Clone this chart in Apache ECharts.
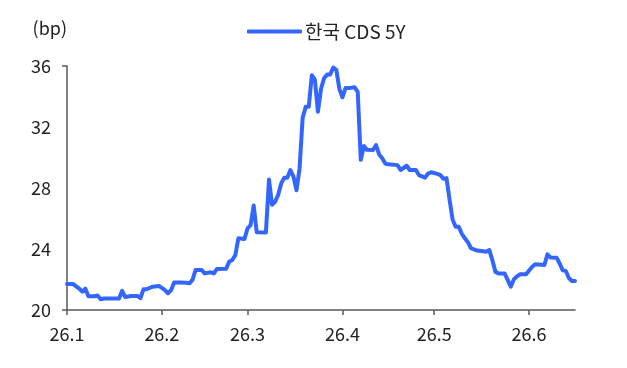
<!DOCTYPE html>
<html>
<head>
<meta charset="utf-8">
<script src="https://cdn.jsdelivr.net/npm/echarts@6/dist/echarts.min.js"></script>
<style>
  html, body { margin: 0; padding: 0; background: #ffffff; }
  #chart { width: 627px; height: 368px; }
</style>
</head>
<body>
<div id="chart"></div>
<script>
// Korea 5Y CDS spread (bp), daily observations
const seriesName = '한국 CDS 5Y';
const unitLabel = '(bp)';

const dates = [
  '2026-01-01','2026-01-03','2026-01-05','2026-01-06','2026-01-07','2026-01-08','2026-01-10','2026-01-11',
  '2026-01-12','2026-01-13','2026-01-15','2026-01-18','2026-01-19','2026-01-20','2026-01-22','2026-01-24',
  '2026-01-25','2026-01-26','2026-01-27','2026-01-29','2026-01-31',
  '2026-02-01','2026-02-02','2026-02-03','2026-02-04','2026-02-05','2026-02-07','2026-02-09','2026-02-10',
  '2026-02-11','2026-02-12','2026-02-14','2026-02-15','2026-02-17','2026-02-18','2026-02-19','2026-02-22',
  '2026-02-23','2026-02-24','2026-02-25','2026-02-26','2026-02-28',
  '2026-03-01','2026-03-02','2026-03-03','2026-03-04','2026-03-07','2026-03-08','2026-03-09','2026-03-10',
  '2026-03-11','2026-03-12','2026-03-13','2026-03-14','2026-03-15','2026-03-16','2026-03-17','2026-03-18',
  '2026-03-19','2026-03-20','2026-03-21','2026-03-22','2026-03-23','2026-03-24','2026-03-25','2026-03-26',
  '2026-03-27','2026-03-28','2026-03-29','2026-03-30','2026-03-31',
  '2026-04-01','2026-04-02','2026-04-03','2026-04-05','2026-04-06','2026-04-07','2026-04-08','2026-04-09',
  '2026-04-11','2026-04-12','2026-04-13','2026-04-14','2026-04-15','2026-04-16','2026-04-19','2026-04-20',
  '2026-04-22','2026-04-23','2026-04-25','2026-04-26','2026-04-28','2026-04-29','2026-04-30',
  '2026-05-02','2026-05-03','2026-05-04','2026-05-05','2026-05-06','2026-05-07','2026-05-08','2026-05-09',
  '2026-05-10','2026-05-11','2026-05-12','2026-05-13','2026-05-15','2026-05-17','2026-05-18','2026-05-19',
  '2026-05-20','2026-05-21','2026-05-22','2026-05-24','2026-05-25','2026-05-26','2026-05-27','2026-05-28',
  '2026-05-29','2026-05-31',
  '2026-06-02','2026-06-03','2026-06-06','2026-06-07','2026-06-08','2026-06-10','2026-06-11','2026-06-12',
  '2026-06-13','2026-06-14','2026-06-15','2026-06-16'
];

const cds5y = [
  21.7, 21.7, 21.4, 21.2, 21.4, 20.9, 20.9, 20.95,
  20.7, 20.75, 20.75, 20.75, 21.25, 20.85, 20.92, 20.92,
  20.78, 21.36, 21.36, 21.53, 21.57,
  21.45, 21.3, 21.1, 21.3, 21.8, 21.8, 21.78, 21.75,
  21.97, 22.62, 22.62, 22.4, 22.47, 22.4, 22.69, 22.7,
  23.17, 23.28, 23.6, 24.7, 24.66,
  25.36, 25.57, 26.85, 25.1, 25.09, 28.55, 26.9, 27.1,
  27.55, 28.3, 28.68, 28.68, 29.18, 28.75, 27.85, 29.3,
  32.6, 33.33, 33.33, 35.4, 35.1, 33.0, 34.5, 35.2,
  35.45, 35.45, 35.9, 35.75, 34.5,
  33.95, 34.55, 34.55, 34.6, 34.3, 29.85, 30.75, 30.5,
  30.49, 30.82, 30.2, 29.95, 29.6, 29.55, 29.5, 29.18,
  29.46, 29.18, 29.18, 28.85, 28.68, 28.95, 29.03,
  28.93, 28.85, 28.6, 28.65, 27.25, 25.93, 25.46, 25.46,
  25.0, 24.7, 24.45, 24.05, 23.9, 23.85, 23.82, 23.93,
  23.27, 22.5, 22.4, 22.4, 21.97, 21.53, 22.0, 22.2,
  22.34, 22.34,
  22.84, 23.0, 22.95, 23.65, 23.45, 23.43, 23.04, 22.6,
  22.56, 22.1, 21.9, 21.9
];

// month-start tick positions and their labels
const monthTicks = ['2026-01-01','2026-02-01','2026-03-01','2026-04-01','2026-05-01','2026-06-01'];
const monthLabels = ['26.1','26.2','26.3','26.4','26.5','26.6'];
const yTicks = [20, 24, 28, 32, 36];

const DAY = 86400000;
// dates become day offsets from the first observation
const toDay = s => {
  const [y, m, d] = s.split('-').map(Number);
  return Math.round((Date.UTC(y, m - 1, d) - Date.UTC(2026, 0, 1)) / DAY);
};
const monthTickDays = monthTicks.map(toDay);
const seriesData = dates.map((d, i) => [toDay(d), cds5y[i]]);

const FONT = '"Noto Sans CJK KR", "Noto Sans", sans-serif';
const AXIS_COLOR = '#595959';
const TEXT_COLOR = '#222222';
const LINE_COLOR = '#3366ff';

const chart = echarts.init(document.getElementById('chart'), null, { renderer: 'canvas' });
chart.setOption({
  animation: false,
  textStyle: { fontFamily: FONT },
  grid: { left: 67, right: 52, top: 66, bottom: 58, containLabel: false },
  legend: {
    data: [{ name: seriesName, icon: 'roundRect' }],
    left: 242,
    top: 17,
    itemWidth: 55,
    itemHeight: 4,
    itemGap: 10,
    textStyle: { fontFamily: FONT, fontSize: 19, color: TEXT_COLOR, padding: [0, 0, 0, -2] }
  },
  xAxis: {
    type: 'value',
    min: toDay(dates[0]),
    max: toDay(dates[dates.length - 1]),
    axisLine: { show: true, lineStyle: { color: AXIS_COLOR, width: 1.5 } },
    axisTick: {
      show: true, inside: false, length: 5,
      customValues: monthTickDays,
      lineStyle: { color: AXIS_COLOR, width: 1.5 }
    },
    axisLabel: {
      customValues: monthTickDays,
      margin: 15,
      fontFamily: FONT, fontSize: 18, color: TEXT_COLOR,
      formatter: v => {
        const idx = monthTickDays.indexOf(v);
        return idx >= 0 ? monthLabels[idx] : '';
      }
    },
    splitLine: { show: false }
  },
  yAxis: {
    type: 'value',
    min: yTicks[0],
    max: yTicks[yTicks.length - 1],
    interval: 4,
    name: unitLabel,
    nameLocation: 'end',
    nameGap: 29,
    nameTextStyle: { fontFamily: FONT, fontSize: 18, color: TEXT_COLOR, align: 'right' },
    axisLine: { show: true, lineStyle: { color: AXIS_COLOR, width: 1.5 } },
    axisTick: {
      show: true, inside: false, length: 5,
      customValues: [yTicks[0], yTicks[yTicks.length - 1]],
      lineStyle: { color: AXIS_COLOR, width: 1.5 }
    },
    axisLabel: { margin: 16, fontFamily: FONT, fontSize: 18, color: TEXT_COLOR },
    splitLine: { show: false }
  },
  series: [{
    name: seriesName,
    type: 'line',
    data: seriesData,
    symbol: 'none',
    smooth: false,
    lineStyle: { color: LINE_COLOR, width: 4, join: 'round', cap: 'round' },
    itemStyle: { color: LINE_COLOR }
  }]
});
</script>
</body>
</html>
